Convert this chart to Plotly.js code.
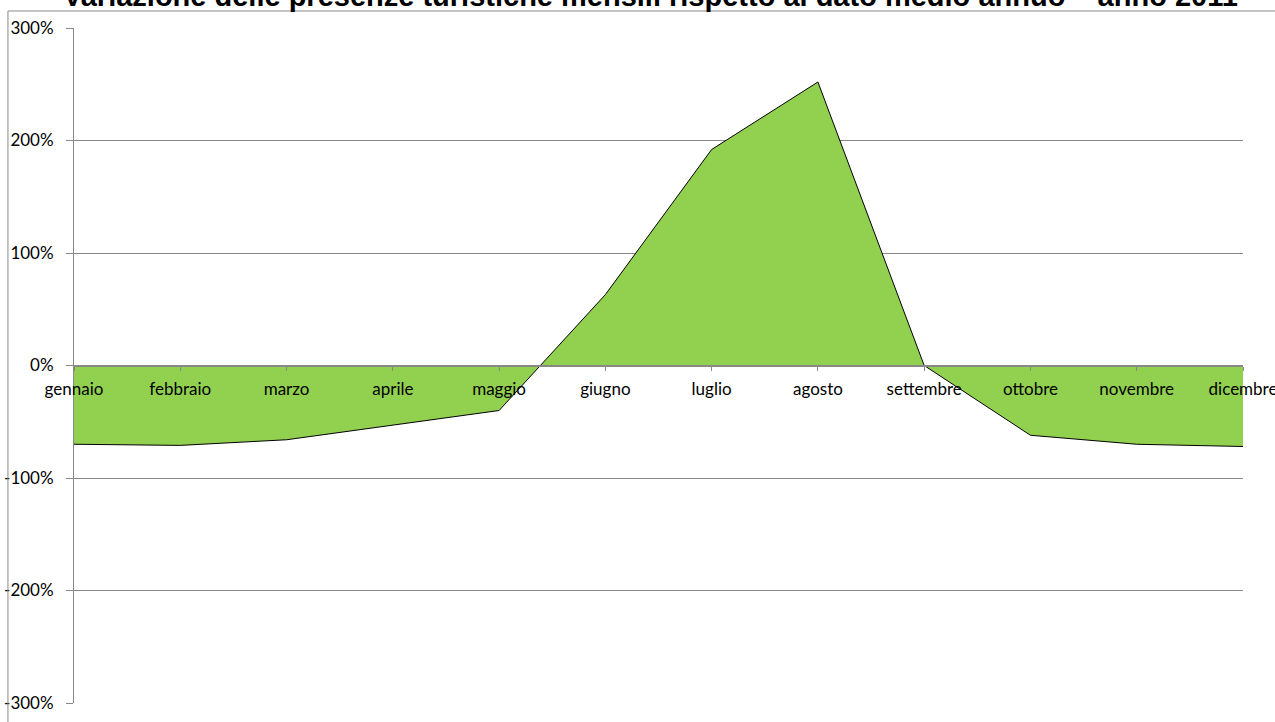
<!DOCTYPE html>
<html>
<head>
<meta charset="utf-8">
<script src="https://cdn.plot.ly/plotly-3.0.1.min.js"></script>
<style>html,body{margin:0;padding:0;background:#fff;}#chart{width:1275px;height:722px;}</style>
</head>
<body>
<div id="chart"></div>
<script>
const months = ['gennaio','febbraio','marzo','aprile','maggio','giugno','luglio','agosto','settembre','ottobre','novembre','dicembre'];
const variation = [-0.70, -0.71, -0.66, -0.53, -0.40, 0.63, 1.92, 2.52, 0.00, -0.62, -0.70, -0.72];
const yTickVals = [-3, -2, -1, 0, 1, 2, 3];
const yTickText = ['-300%', '-200%', '-100%', '0%', '100%', '200%', '300%'];
const titleText = 'Variazione delle presenze turistiche mensili rispetto al dato medio annuo – anno 2011';

const trace = {
  type: 'scatter',
  mode: 'lines',
  x: months.map((m, i) => i),
  y: variation,
  fill: 'tozeroy',
  fillcolor: '#92D050',
  line: {color: '#000000', width: 1},
  hoverinfo: 'y'
};

const labelFont = {family: 'Lato, Carlito, sans-serif', size: 17, color: '#000'};

const layout = {
  width: 1275, height: 722,
  margin: {l: 74, r: 32, t: 28, b: 19},
  paper_bgcolor: '#ffffff',
  plot_bgcolor: '#ffffff',
  showlegend: false,
  annotations: [{
    text: '<b>' + titleText + '</b>',
    xref: 'paper', yref: 'paper',
    x: 0.493, xanchor: 'center',
    y: 1.0475, yanchor: 'middle',
    showarrow: false,
    font: {family: 'Liberation Sans, Arial, sans-serif', size: 29, color: '#000'}
  }],
  xaxis: {
    range: [0, 11],
    tickmode: 'array',
    tickvals: months.map((m, i) => i),
    ticktext: months,
    anchor: 'free',
    position: 0.4993,
    showline: true, linecolor: '#888', linewidth: 2,
    ticks: 'outside', ticklen: 4, tickcolor: '#888', tickwidth: 1,
    ticklabelstandoff: 4,
    ticklabeloverflow: 'allow',
    showgrid: false, zeroline: false,
    tickfont: labelFont,
    fixedrange: true
  },
  yaxis: {
    range: [-3, 3],
    tickmode: 'array',
    tickvals: yTickVals,
    ticktext: yTickText,
    showline: true, linecolor: '#888', linewidth: 1,
    ticks: 'outside', ticklen: 7, tickcolor: '#888',
    ticklabelstandoff: 9,
    showgrid: true, gridcolor: '#888', gridwidth: 1,
    zeroline: false,
    tickfont: labelFont,
    fixedrange: true
  },
  shapes: [
    {type: 'line', xref: 'paper', yref: 'paper', x0: -0.0565, x1: 1.1, y0: 1.0252, y1: 1.0252, line: {color: '#888', width: 1}},
    {type: 'line', xref: 'paper', yref: 'paper', x0: -0.0565, x1: -0.0565, y0: -0.1, y1: 1.0252, line: {color: '#888', width: 1}}
  ]
};

Plotly.newPlot('chart', [trace], layout, {displayModeBar: false, staticPlot: true});
</script>
</body>
</html>
